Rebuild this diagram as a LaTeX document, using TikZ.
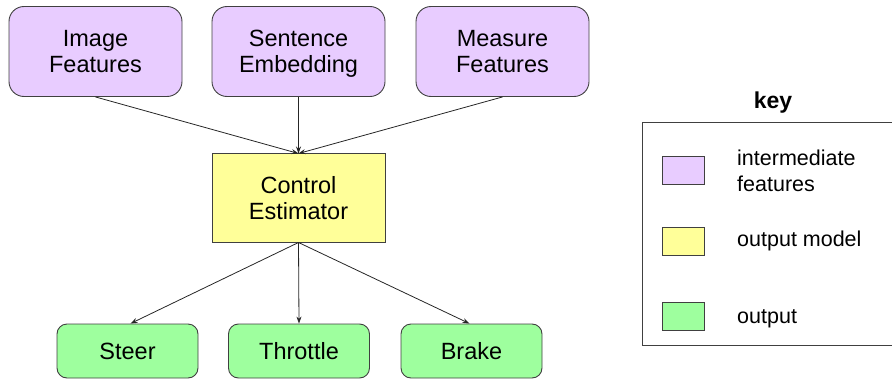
\documentclass[tikz,border=0pt]{standalone}
\usepackage{fontspec}
\setmainfont{Liberation Sans}
\usetikzlibrary{arrows.meta}
\definecolor{featfill}{HTML}{E8CCFF}
\definecolor{modelfill}{HTML}{FFFF99}
\definecolor{outfill}{HTML}{9EFF9E}
\definecolor{edge}{HTML}{404040}
\tikzset{
  box/.style={draw=edge, line width=0.9pt, align=center, inner sep=0pt,
    font=\fontsize{23.5}{26.5}\selectfont},
  featbox/.style={box, fill=featfill, rounded corners=15pt,
    minimum width=173pt, minimum height=90pt},
  modelbox/.style={box, fill=modelfill, minimum width=173pt, minimum height=89pt},
  outbox/.style={box, fill=outfill, rounded corners=10pt,
    minimum width=141pt, minimum height=54pt},
  swatch/.style={draw=edge, line width=0.9pt, minimum width=42pt,
    minimum height=28pt, inner sep=0pt},
  keytext/.style={anchor=west, align=left, inner sep=0pt,
    font=\fontsize{21.5}{26}\selectfont},
  link/.style={-{Stealth[length=7pt,width=5pt]}, line width=0.8pt, black!85},
}
\begin{document}
\begin{tikzpicture}[x=1pt,y=-1pt]
  \useasboundingbox (0,0) rectangle (892,380);

  % feature extractors (descender smashed so all labels sit at the same height)
  \node[featbox] (img)  at (95.5,51.5)  {Image\\Features};
  \node[featbox] (sent) at (298.5,51.5) {Sentence\\Embeddin\smash{g}};
  \node[featbox] (meas) at (502.5,51.5) {Measure\\Features};

  % control model
  \node[modelbox] (ctrl) at (298.5,198) {Control\\Estimator};

  % outputs
  \node[outbox] (steer) at (127.5,351) {Steer};
  \node[outbox] (thr)   at (299,351)   {Throttle};
  \node[outbox] (brk)   at (471.5,351) {Brake};

  % connectors
  \coordinate (ctop) at (298.5,153.5);
  \coordinate (cbot) at (298.5,242.5);
  \draw[link] (img.south)  -- (ctop);
  \draw[link] (sent.south) -- (ctop);
  \draw[link] (meas.south) -- (ctop);
  \draw[link] (cbot) -- ([xshift=3pt]steer.north);
  \draw[link] (cbot) -- (thr.north);
  \draw[link] (cbot) -- ([xshift=-2pt]brk.north);

  % legend
  \node[font=\bfseries\fontsize{23}{27}\selectfont, inner sep=0pt] (keytitle) at (773,103) {key};
  \coordinate (kTR) at (892,122);
  \coordinate (kTL) at (642,122);
  \coordinate (kBL) at (642,345);
  \coordinate (kBR) at (892,345);
  \draw[draw=edge, line width=0.9pt] (kTR) -- (kTL) -- (kBL) -- (kBR);

  \node[swatch, fill=featfill]  (swA) at (683,170) {};
  \node[swatch, fill=modelfill] (swB) at (683,241.5) {};
  \node[swatch, fill=outfill]   (swC) at (683,316.5) {};
  \node[keytext] (txA) at (737,171)   {intermediate\\features};
  \node[keytext] (txB) at (737,240.5) {output model};
  \node[keytext] (txC) at (737,319)   {output};
\end{tikzpicture}
\end{document}
